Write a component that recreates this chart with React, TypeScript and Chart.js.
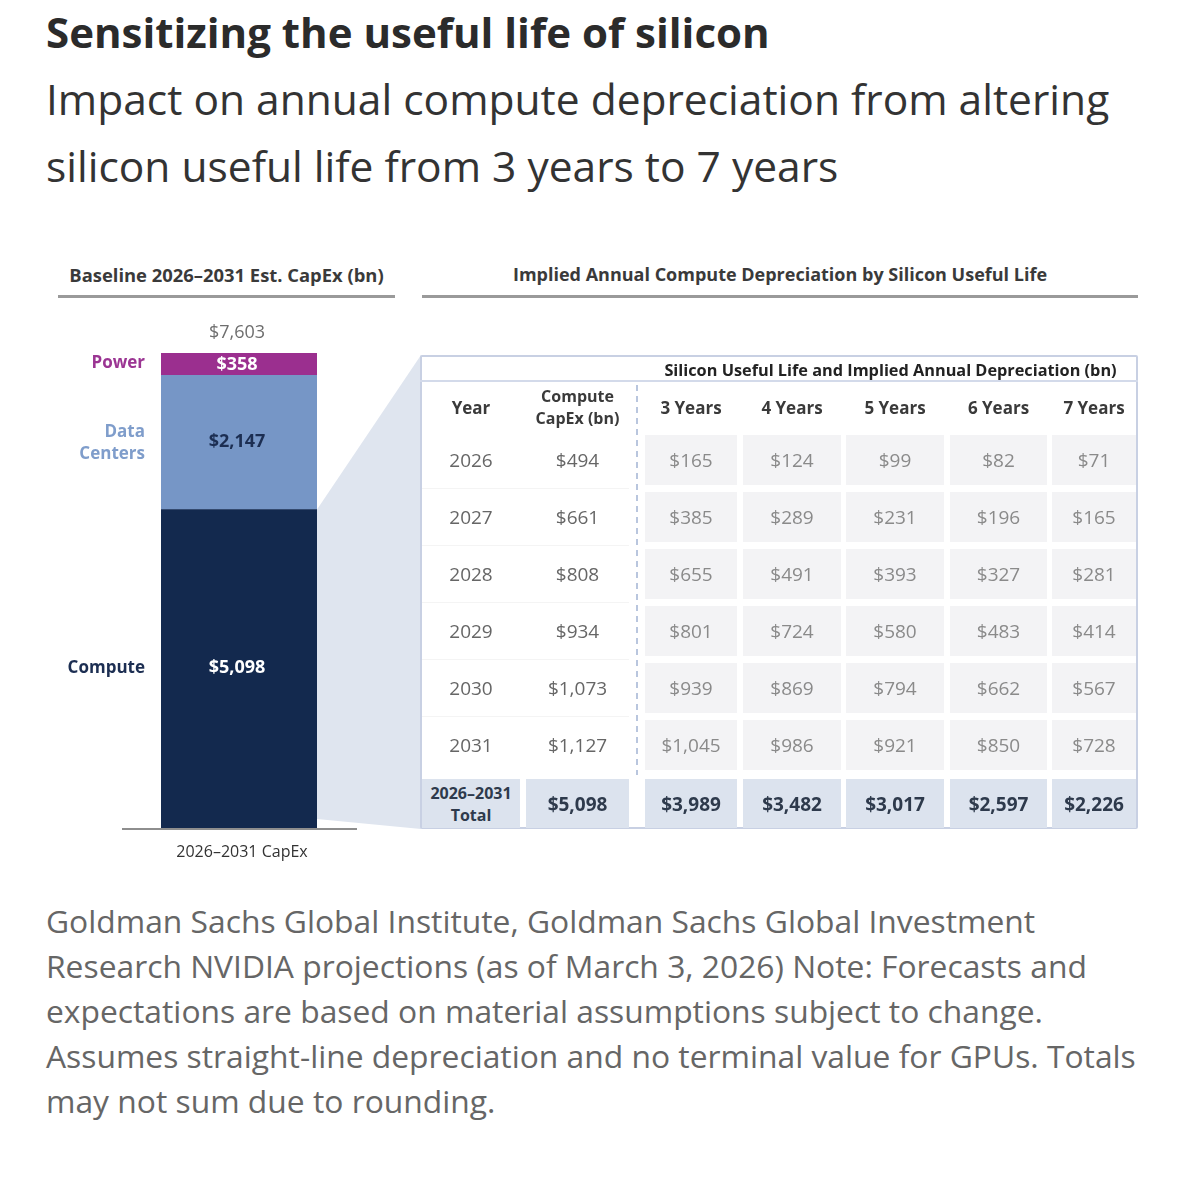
import React, { useEffect, useRef } from "react";
import { Chart, registerables } from "chart.js";

Chart.register(...registerables);

// ---------- data ----------
const barCategory = ["2026–2031 CapEx"];
const segmentLabels = ["Compute", "Data Centers", "Power"];
const segmentValues = [5098, 2147, 358];

const years = ["2026", "2027", "2028", "2029", "2030", "2031"];
const computeCapex = [494, 661, 808, 934, 1073, 1127];
const lifeHeaders = ["3 Years", "4 Years", "5 Years", "6 Years", "7 Years"];
const dep3 = [165, 385, 655, 801, 939, 1045];
const dep4 = [124, 289, 491, 724, 869, 986];
const dep5 = [99, 231, 393, 580, 794, 921];
const dep6 = [82, 196, 327, 483, 662, 850];
const dep7 = [71, 165, 281, 414, 567, 728];
const totalLabel = ["2026–2031", "Total"];
const totalCompute = 5098;
const depTotals = [3989, 3482, 3017, 2597, 2226];

// ---------- styles / layout ----------
const segmentColors = ["#13294e", "#7696c6", "#9b2f8f"];
const segmentLabelColors = ["#1c2e52", "#7f9dcb", "#9b3593"];
const segmentValueColors = ["#ffffff", "#1c2e52", "#ffffff"];
const FONT = "'Open Sans', 'Noto Sans', sans-serif";
const CANVAS = { left: 0, top: 250, width: 440, height: 640 };
const TABLE = { left: 420, top: 355, width: 718, height: 474 };
const colLeft = [422, 526, 645, 743, 846, 950, 1052];
const colWidth = [98, 103, 92, 98, 98, 97, 84];
const rowTop = [435, 492, 549, 606, 663, 720];
const rowH = 50;
const totalTop = 779;
const totalH = 49;

const fmt = (n: number) => "$" + n.toLocaleString("en-US");

const decorPlugin = {
  id: "decor",
  beforeDatasetsDraw(chart: any) {
    const ctx = chart.ctx;
    const el: any = chart.getDatasetMeta(0).data[0];
    const right = el.x + el.width / 2;
    ctx.save();
    ctx.fillStyle = "#dfe5ef";
    ctx.beginPath();
    ctx.moveTo(right, el.y);
    ctx.lineTo(TABLE.left + 1, TABLE.top - CANVAS.top);
    ctx.lineTo(TABLE.left + 1, TABLE.top + TABLE.height - CANVAS.top);
    ctx.lineTo(right, el.base - 9);
    ctx.closePath();
    ctx.fill();
    ctx.restore();
  },
  afterDatasetsDraw(chart: any) {
    const ctx = chart.ctx;
    const area = chart.chartArea;
    const xs = chart.scales.x;
    const cx = xs.getPixelForValue(0);
    ctx.save();
    // axis line
    ctx.strokeStyle = "#8e8e8e";
    ctx.lineWidth = 2;
    ctx.beginPath();
    ctx.moveTo(122, area.bottom + 1);
    ctx.lineTo(357, area.bottom + 1);
    ctx.stroke();
    // category label
    ctx.fillStyle = "#333";
    ctx.font = `16px ${FONT}`;
    ctx.textAlign = "center";
    ctx.textBaseline = "middle";
    ctx.fillText(barCategory[0], cx + 3, area.bottom + 24);
    // total
    const total = segmentValues.reduce((a, b) => a + b, 0);
    ctx.fillStyle = "#6e6e6e";
    ctx.font = `18px ${FONT}`;
    ctx.fillText(fmt(total), cx - 2, area.top - 20);
    // segment labels
    segmentLabels.forEach((lab, i) => {
      const bar: any = chart.getDatasetMeta(i).data[0];
      const mid = (bar.y + bar.base) / 2;
      ctx.font = `bold 18px ${FONT}`;
      ctx.textAlign = "center";
      ctx.fillStyle = segmentValueColors[i];
      ctx.fillText(fmt(segmentValues[i]), bar.x - 2, mid + (i === 2 ? 1 : -1));
      ctx.font = `bold 17px ${FONT}`;
      ctx.textAlign = "right";
      ctx.fillStyle = segmentLabelColors[i];
      const words = lab.split(" ");
      if (words.length > 1) {
        ctx.fillText(words[0], 145, mid - 10);
        ctx.fillText(words[1], 145, mid + 12);
      } else {
        ctx.fillText(lab, 145, mid - 1);
      }
    });
    ctx.restore();
  },
};

function BarPanel() {
  const ref = useRef<HTMLCanvasElement>(null);
  useEffect(() => {
    const canvas = ref.current!;
    const chart = new Chart(canvas, {
      type: "bar",
      data: {
        labels: barCategory,
        datasets: segmentLabels.map((lab, i) => ({
          label: lab,
          data: [segmentValues[i]],
          backgroundColor: segmentColors[i],
          borderWidth: 0,
          barPercentage: 1,
          categoryPercentage: 1,
        })),
      },
      options: {
        responsive: false,
        animation: false,
        devicePixelRatio: 1,
        layout: {
          padding: {
            left: 161,
            right: CANVAS.width - 317,
            top: 353 - CANVAS.top,
            bottom: CANVAS.top + CANVAS.height - 828,
          },
        },
        plugins: { legend: { display: false }, tooltip: { enabled: false }, title: { display: false } },
        scales: {
          x: { stacked: true, display: false },
          y: {
            stacked: true,
            display: false,
            min: 0,
            max: segmentValues.reduce((a, b) => a + b, 0),
          },
        },
      },
      plugins: [decorPlugin],
    } as any);
    return () => chart.destroy();
  }, []);
  return (
    <canvas
      ref={ref}
      width={CANVAS.width}
      height={CANVAS.height}
      style={{ position: "absolute", left: CANVAS.left, top: CANVAS.top, width: CANVAS.width, height: CANVAS.height }}
    />
  );
}

const abs = (left: number, top: number, width: number, height: number, extra: any = {}) => ({
  position: "absolute" as const,
  left,
  top,
  width,
  height,
  ...extra,
});

const centered = {
  display: "flex",
  alignItems: "center",
  justifyContent: "center",
  textAlign: "center" as const,
  flexDirection: "column" as const,
};

function Table() {
  const depSeries = [dep3, dep4, dep5, dep6, dep7];
  const cells: any[] = [];
  const headFont = `bold 17px ${FONT}`;
  // column headers
  cells.push(
    <div key="h-year" style={abs(colLeft[0], 383, colWidth[0], 48, { ...centered, font: headFont, color: "#3a3a3a" })}>
      Year
    </div>
  );
  cells.push(
    <div key="h-cap" style={abs(colLeft[1], 383, colWidth[1], 48, { ...centered, font: `bold 16px ${FONT}`, color: "#3a3a3a", lineHeight: "22px", whiteSpace: "nowrap" })}>
      <div>Compute</div>
      <div>CapEx (bn)</div>
    </div>
  );
  lifeHeaders.forEach((h, j) => {
    cells.push(
      <div key={"h" + j} style={abs(colLeft[j + 2], 383, colWidth[j + 2], 48, { ...centered, font: headFont, color: "#3a3a3a", whiteSpace: "nowrap" })}>
        {h}
      </div>
    );
  });
  // rows
  years.forEach((y, i) => {
    const top = rowTop[i];
    if (i > 0) {
      cells.push(<div key={"sep" + i} style={abs(colLeft[0], top - 4, colLeft[1] + colWidth[1] - colLeft[0], 1, { background: "#f4f4f4" })} />);
    }
    cells.push(
      <div key={"y" + i} style={abs(colLeft[0], top, colWidth[0], rowH, { ...centered, font: `19px ${FONT}`, color: "#666" })}>
        {y}
      </div>
    );
    cells.push(
      <div key={"c" + i} style={abs(colLeft[1], top, colWidth[1], rowH, { ...centered, font: `19px ${FONT}`, color: "#666" })}>
        {fmt(computeCapex[i])}
      </div>
    );
    depSeries.forEach((s, j) => {
      cells.push(
        <div key={"d" + i + "-" + j} style={abs(colLeft[j + 2], top, colWidth[j + 2], rowH, { ...centered, background: "#f3f3f5", font: `19px ${FONT}`, color: "#8a8a8a" })}>
          {fmt(s[i])}
        </div>
      );
    });
  });
  // totals
  cells.push(
    <div key="t-lab" style={abs(colLeft[0], totalTop, colWidth[0], totalH, { ...centered, background: "#dce3ee", font: `bold 16px ${FONT}`, color: "#2e3a4c", lineHeight: "22px", whiteSpace: "nowrap" })}>
      <div>{totalLabel[0]}</div>
      <div>{totalLabel[1]}</div>
    </div>
  );
  cells.push(
    <div key="t-cap" style={abs(colLeft[1], totalTop, colWidth[1], totalH, { ...centered, background: "#dce3ee", font: `bold 19px ${FONT}`, color: "#2e3a4c" })}>
      {fmt(totalCompute)}
    </div>
  );
  depTotals.forEach((v, j) => {
    cells.push(
      <div key={"t" + j} style={abs(colLeft[j + 2], totalTop, colWidth[j + 2], totalH, { ...centered, background: "#dce3ee", font: `bold 19px ${FONT}`, color: "#2e3a4c" })}>
        {fmt(v)}
      </div>
    );
  });

  return (
    <>
      <div style={abs(TABLE.left, TABLE.top, TABLE.width, TABLE.height, { border: "2px solid #c8d0e3", boxSizing: "border-box", background: "#fff", borderRadius: 2 })} />
      <div style={abs(TABLE.left, 380, TABLE.width, 2, { background: "#d3daea" })} />
      <div style={abs(colLeft[2], 358, colLeft[6] + colWidth[6] - colLeft[2], 24, { ...centered, font: `bold 16.3px ${FONT}`, color: "#222", whiteSpace: "nowrap" })}>
        Silicon Useful Life and Implied Annual Depreciation (bn)
      </div>
      <div
        style={abs(636, 385, 2, 390, {
          background: "repeating-linear-gradient(to bottom, #b9c6de 0px, #b9c6de 6px, transparent 6px, transparent 11px)",
        })}
      />
      {cells}
    </>
  );
}

export default function App() {
  useEffect(() => {
    document.body.style.margin = "0";
  }, []);
  return (
    <div style={{ position: "absolute", left: 0, top: 0, width: 1200, height: 1181, background: "#fff", fontFamily: FONT, color: "#333", overflow: "hidden" }}>
      <div style={abs(46, 7, 1140, 50, { font: `bold 42px ${FONT}`, lineHeight: "50px", color: "#2b2b2b", whiteSpace: "nowrap" })}>
        Sensitizing the useful life of silicon
      </div>
      <div style={abs(46, 65, 1140, 134, { font: `42.5px ${FONT}`, lineHeight: "67px", color: "#333", whiteSpace: "nowrap" })}>
        <div>Impact on annual compute depreciation from altering</div>
        <div>silicon useful life from 3 years to 7 years</div>
      </div>

      {/* section headers */}
      <div style={abs(58, 263, 337, 22, { ...centered, font: `bold 18.4px ${FONT}`, color: "#3a3a3a", whiteSpace: "nowrap" })}>
        Baseline 2026–2031 Est. CapEx (bn)
      </div>
      <div style={abs(58, 295, 337, 3, { background: "#9a9a9a" })} />
      <div style={abs(422, 263, 716, 22, { ...centered, font: `bold 18px ${FONT}`, color: "#3a3a3a", whiteSpace: "nowrap" })}>
        Implied Annual Compute Depreciation by Silicon Useful Life
      </div>
      <div style={abs(422, 295, 716, 3, { background: "#9a9a9a" })} />

      <BarPanel />
      <Table />

      <div style={abs(46, 898, 1140, 230, { font: `31.8px ${FONT}`, lineHeight: "45px", color: "#666", whiteSpace: "nowrap" })}>
        <div>Goldman Sachs Global Institute, Goldman Sachs Global Investment</div>
        <div>Research NVIDIA projections (as of March 3, 2026) Note: Forecasts and</div>
        <div>expectations are based on material assumptions subject to change.</div>
        <div>Assumes straight-line depreciation and no terminal value for GPUs. Totals</div>
        <div>may not sum due to rounding.</div>
      </div>
    </div>
  );
}
